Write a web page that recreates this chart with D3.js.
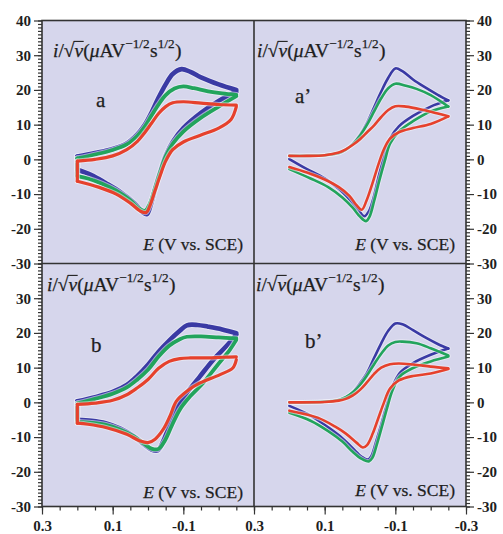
<!DOCTYPE html>
<html>
<head>
<meta charset="utf-8">
<script src="https://cdn.jsdelivr.net/npm/d3@7"></script>
<style>
  body { margin: 0; background: #fff; }
  svg text { font-family: 'Liberation Serif', 'Times New Roman', serif; }
</style>
</head>
<body>
<div id="chart"></div>
<script>
// ---- data: [E (V vs. SCE), i/sqrt(v)] ----
// panel a (experiment)
const aBlueFwd = [[0.2,0.8],[0.15,1.8],[0.1,3.0],[0.06,4.6],[0.03,7.2],[0.01,9.8],[-0.01,13.5],[-0.03,17.8],[-0.05,21.6],[-0.07,24.6],[-0.095,26],[-0.12,25.2],[-0.15,23.6],[-0.2,21.6],[-0.25,20]];
const aBlueRev = [[-0.25,19.5],[-0.2,16.8],[-0.15,13.4],[-0.1,9],[-0.07,5],[-0.05,1],[-0.035,-3.5],[-0.02,-8.5],[-0.008,-13],[0.003,-15.8],[0.015,-15.2],[0.04,-12.5],[0.08,-9.3],[0.12,-6.8],[0.16,-4.5],[0.2,-3]];
const aGreenFwd = [[0.2,0.3],[0.15,1.4],[0.1,2.7],[0.06,4.3],[0.03,6.8],[0.01,9.3],[-0.01,12.6],[-0.03,15.8],[-0.05,18.5],[-0.075,20.4],[-0.1,21],[-0.13,20.5],[-0.17,19.6],[-0.21,19],[-0.25,18.6]];
const aGreenRev = [[-0.25,18.2],[-0.2,15.2],[-0.15,12],[-0.1,8],[-0.07,4.5],[-0.05,0.8],[-0.035,-3.5],[-0.02,-8.3],[-0.005,-12.8],[0.008,-14.8],[0.025,-14.2],[0.05,-11.8],[0.09,-9],[0.13,-7],[0.17,-5.5],[0.2,-4.8]];
const aRedFwd = [[0.2,-0.5],[0.15,0],[0.1,1],[0.06,2.8],[0.03,5.2],[0.01,7.6],[-0.01,10.4],[-0.03,13.2],[-0.05,15.2],[-0.07,16.3],[-0.1,16.6],[-0.15,16.2],[-0.2,15.8],[-0.25,15.6]];
const aRedRev = [[-0.25,15.2],[-0.235,11.5],[-0.2,9],[-0.15,7],[-0.1,5],[-0.07,2.8],[-0.05,-0.5],[-0.035,-4.5],[-0.02,-9],[-0.005,-13.5],[0.005,-15.3],[0.02,-15],[0.05,-12.6],[0.09,-10],[0.14,-8],[0.2,-6.3]];

// panel a' (simulation)
const apBlueFwd = [[0.2,1],[0.15,1],[0.1,1.2],[0.06,1.8],[0.04,2.8],[0.02,4.5],[0.0,7],[-0.02,10.5],[-0.04,15],[-0.06,19.5],[-0.08,23.5],[-0.1,26.2],[-0.12,25.4],[-0.15,23],[-0.18,21],[-0.22,18.6],[-0.25,17]];
const apBlueRev = [[-0.25,17],[-0.2,15.2],[-0.15,12.5],[-0.11,9.5],[-0.085,6],[-0.07,1.5],[-0.055,-4],[-0.04,-10.5],[-0.025,-15],[-0.012,-16.4],[0.005,-14.5],[0.03,-11.5],[0.06,-8.5],[0.1,-5.5],[0.15,-2.8],[0.2,0.1]];
const apGreenFwd = [[0.2,1],[0.1,1.2],[0.06,1.8],[0.04,2.8],[0.02,4.4],[0.0,6.8],[-0.02,10],[-0.04,13.8],[-0.06,17.6],[-0.08,20.5],[-0.1,21.8],[-0.13,21.2],[-0.16,20.3],[-0.2,18.5],[-0.25,15.2]];
const apGreenRev = [[-0.25,15.2],[-0.2,13.8],[-0.15,11],[-0.11,8],[-0.085,4.5],[-0.07,-0.5],[-0.055,-6],[-0.04,-12],[-0.027,-16.5],[-0.017,-17.8],[0.0,-16.5],[0.02,-14],[0.05,-11],[0.09,-8],[0.14,-5.5],[0.2,-2.8]];
const apRedFwd = [[0.2,1],[0.15,1],[0.1,1.2],[0.06,2],[0.04,2.9],[0.02,4.2],[0.0,5.8],[-0.02,7.8],[-0.04,9.8],[-0.06,12.2],[-0.08,14.2],[-0.1,15.3],[-0.13,15.2],[-0.18,14.2],[-0.22,13.2],[-0.25,12.4]];
const apRedRev = [[-0.25,12.4],[-0.2,10.2],[-0.15,9],[-0.11,7.8],[-0.085,6],[-0.068,3],[-0.052,-1.5],[-0.035,-7],[-0.018,-12],[-0.005,-14.5],[0.01,-13.2],[0.03,-10.5],[0.06,-8],[0.1,-5.8],[0.15,-3.8],[0.2,-2.2]];

// panel b (experiment)
const bBlueFwd = [[0.2,0.3],[0.15,1.5],[0.1,3],[0.06,5],[0.03,7.6],[0.0,10.8],[-0.03,14.6],[-0.06,17.8],[-0.09,20.6],[-0.11,22.2],[-0.14,22.3],[-0.17,21.8],[-0.21,21],[-0.25,19.9]];
const bBlueRev = [[-0.25,19.5],[-0.22,16],[-0.185,12.3],[-0.147,7.5],[-0.11,2.7],[-0.08,-2],[-0.06,-6.8],[-0.043,-11.2],[-0.028,-13.8],[-0.01,-13.6],[0.01,-12.2],[0.04,-9.8],[0.08,-7.5],[0.12,-6],[0.16,-5.3],[0.2,-5]];
const bGreenFwd = [[0.2,-0.3],[0.15,1],[0.1,2.5],[0.06,4.3],[0.03,6.6],[0.0,9.4],[-0.03,13.2],[-0.06,16.3],[-0.09,18.2],[-0.11,18.9],[-0.15,19],[-0.2,18.7],[-0.25,18.4]];
const bGreenRev = [[-0.25,18],[-0.232,15.2],[-0.194,10.4],[-0.156,5.6],[-0.12,1.8],[-0.09,-2.1],[-0.067,-6.8],[-0.048,-11],[-0.03,-13.4],[-0.012,-13.4],[0.01,-12],[0.04,-9.8],[0.08,-7.8],[0.12,-6.5],[0.16,-5.9],[0.2,-5.6]];
const bRedFwd = [[0.2,-0.6],[0.15,-0.2],[0.1,0.6],[0.06,2.2],[0.03,4.2],[0.0,6.6],[-0.03,9.8],[-0.06,11.8],[-0.09,12.6],[-0.12,12.8],[-0.17,12.8],[-0.21,13],[-0.25,13.1]];
const bRedRev = [[-0.25,12.3],[-0.24,9.9],[-0.204,8],[-0.147,5.6],[-0.11,3.2],[-0.08,0.3],[-0.062,-4],[-0.043,-7.8],[-0.02,-10.6],[0.0,-11.6],[0.023,-11.1],[0.06,-9.2],[0.117,-7.3],[0.17,-6.3],[0.2,-6]];

// panel b' (simulation)
const bpBlueFwd = [[0.2,0],[0.1,0.2],[0.06,0.7],[0.04,1.5],[0.02,3],[0.0,5.5],[-0.02,8.5],[-0.04,12.8],[-0.06,17],[-0.08,20.6],[-0.1,22.7],[-0.12,22.5],[-0.15,20.8],[-0.19,18.4],[-0.22,16.8],[-0.25,15.5]];
const bpBlueRev = [[-0.25,15.5],[-0.2,13.7],[-0.15,11.3],[-0.113,8.5],[-0.09,4],[-0.075,-1],[-0.06,-6.5],[-0.045,-11.5],[-0.032,-15.5],[-0.022,-16.5],[-0.005,-15.7],[0.02,-13.3],[0.05,-10.3],[0.09,-7.2],[0.14,-3.8],[0.2,-1]];
const bpGreenFwd = [[0.2,0],[0.1,0.2],[0.06,0.7],[0.04,1.5],[0.02,2.9],[0.0,5],[-0.02,7.8],[-0.04,11],[-0.06,14],[-0.08,16.4],[-0.1,17.4],[-0.12,17.5],[-0.16,17],[-0.2,15.6],[-0.25,13.5]];
const bpGreenRev = [[-0.25,13.2],[-0.2,11.8],[-0.15,9.9],[-0.113,7.5],[-0.092,3.5],[-0.077,-1.5],[-0.062,-7],[-0.048,-12],[-0.035,-16],[-0.025,-17],[-0.005,-16.3],[0.02,-14.3],[0.05,-11.3],[0.09,-8.3],[0.14,-5.3],[0.2,-3]];
const bpRedFwd = [[0.2,0],[0.1,0.1],[0.06,0.5],[0.04,1],[0.02,2],[0.0,3.6],[-0.02,5.8],[-0.04,8.2],[-0.06,10],[-0.085,11],[-0.11,11.2],[-0.15,10.9],[-0.2,10.3],[-0.25,9.8]];
const bpRedRev = [[-0.25,9.6],[-0.2,8.3],[-0.15,7.6],[-0.11,6.3],[-0.085,4],[-0.068,0],[-0.052,-4.5],[-0.036,-9],[-0.02,-12.3],[-0.008,-13],[0.01,-11.6],[0.04,-9],[0.07,-7],[0.12,-4.4],[0.2,-2.4]];

// axis ticks / labels
const xMajor = [0.3, 0.1, -0.1, -0.3];
const yMajor = [40, 30, 20, 10, 0, -10, -20, -30];
const panelLetters = ['a', 'a\u2019', 'b', 'b\u2019'];
const xTitle = 'E';
const xTitleRest = ' (V vs. SCE)';

// ---- layout ----
const W = 503, H = 534;
const X0 = 42, XM = 254, X1 = 466;
const Y0 = 20.5, YM = 263.5, Y1 = 506.5;
const COLORS = { blue: '#3a3aa4', green: '#22a45c', red: '#e6412c' };
const BG = '#d6d6ec';
const INK = '#1e1e1e';

const svg = d3.select('#chart').append('svg')
  .attr('width', W)
  .attr('height', H);

svg.append('rect').attr('width', W).attr('height', H).attr('fill', '#fff');
svg.append('rect')
  .attr('x', X0).attr('y', Y0)
  .attr('width', X1 - X0).attr('height', Y1 - Y0)
  .attr('fill', BG);

// scales
const xL = d3.scaleLinear().domain([0.3, -0.3]).range([X0, XM]);
const xR = d3.scaleLinear().domain([0.3, -0.3]).range([XM, X1]);
const yT = d3.scaleLinear().domain([-30, 40]).range([YM, Y0]);
const yB = d3.scaleLinear().domain([-30, 40]).range([Y1, YM]);

const tickFont = g => g.selectAll('text')
  .attr('font-family', "'Liberation Serif', serif")
  .attr('font-size', 15)
  .attr('font-weight', 'bold')
  .attr('fill', INK);

const tidy = g => {
  g.select('.domain').remove();
  g.selectAll('line').attr('stroke', '#333').attr('stroke-width', 1.2);
};

// y axes: minor every 1, major every 10
function yAxes(y, labels, side) {
  const x = side === 'left' ? X0 : X1;
  const mk = side === 'left' ? d3.axisLeft : d3.axisRight;
  svg.append('g')
    .attr('transform', `translate(${x},0)`)
    .call(mk(y).tickValues(d3.range(-30, 41, 1)).tickSize(4).tickFormat(''))
    .call(tidy);
  svg.append('g')
    .attr('transform', `translate(${x},0)`)
    .call(mk(y).tickValues(labels).tickSize(8).tickPadding(3).tickFormat(d => String(d)))
    .call(tidy)
    .call(tickFont);
}
yAxes(yT, yMajor, 'left');
yAxes(yB, yMajor.filter(d => d !== 40), 'left');
yAxes(yT, yMajor, 'right');
yAxes(yB, yMajor.filter(d => d !== 40), 'right');

// x axis: minor every 0.05, labels at 0.3, 0.1, -0.1, -0.3
function xAxis(x, labels) {
  svg.append('g')
    .attr('transform', `translate(0,${Y1})`)
    .call(d3.axisBottom(x).tickValues(d3.range(-6, 7).map(k => k * 0.05)).tickSize(4).tickFormat(''))
    .call(tidy);
  svg.append('g')
    .attr('transform', `translate(0,${Y1})`)
    .call(d3.axisBottom(x).tickValues(labels).tickSize(8).tickPadding(6).tickFormat(d => d.toFixed(1)))
    .call(tidy)
    .call(tickFont);
}
xAxis(xL, xMajor.slice(0, 3));
xAxis(xR, xMajor);

// frame
const frame = svg.append('g').attr('fill', 'none').attr('stroke', '#333').attr('stroke-width', 1.6);
frame.append('rect').attr('x', X0).attr('y', Y0).attr('width', X1 - X0).attr('height', Y1 - Y0);
frame.append('line').attr('x1', XM).attr('x2', XM).attr('y1', Y0).attr('y2', Y1);
frame.append('line').attr('x1', X0).attr('x2', X1).attr('y1', YM).attr('y2', YM);

// curves
function drawCV(x, y, fwd, rev, color, width, closeStart) {
  const line = d3.line()
    .x(d => x(d[0]))
    .y(d => y(d[1]))
    .curve(d3.curveCatmullRom.alpha(0.5));
  const g = svg.append('g').attr('fill', 'none')
    .attr('stroke-linejoin', 'round').attr('stroke-linecap', 'round');
  const parts = [fwd, rev];
  if (closeStart) parts.push([rev[rev.length - 1], fwd[0]]);
  parts.forEach(p => {
    g.append('path').datum(p)
      .attr('stroke', '#f2f2fa').attr('stroke-opacity', 0.55)
      .attr('stroke-width', width + 2)
      .attr('d', line);
  });
  parts.forEach(p => {
    g.append('path').datum(p)
      .attr('stroke', color)
      .attr('stroke-width', width)
      .attr('d', line);
  });
}

drawCV(xL, yT, aBlueFwd, aBlueRev, COLORS.blue, 4.6, true);
drawCV(xL, yT, aGreenFwd, aGreenRev, COLORS.green, 3.8, true);
drawCV(xL, yT, aRedFwd, aRedRev, COLORS.red, 3.2, true);

drawCV(xR, yT, apBlueFwd, apBlueRev, COLORS.blue, 2.6, false);
drawCV(xR, yT, apGreenFwd, apGreenRev, COLORS.green, 2.6, false);
drawCV(xR, yT, apRedFwd, apRedRev, COLORS.red, 2.6, false);

drawCV(xL, yB, bBlueFwd, bBlueRev, COLORS.blue, 4.6, true);
drawCV(xL, yB, bGreenFwd, bGreenRev, COLORS.green, 3.8, true);
drawCV(xL, yB, bRedFwd, bRedRev, COLORS.red, 3.2, true);

drawCV(xR, yB, bpBlueFwd, bpBlueRev, COLORS.blue, 2.6, false);
drawCV(xR, yB, bpGreenFwd, bpGreenRev, COLORS.green, 2.6, false);
drawCV(xR, yB, bpRedFwd, bpRedRev, COLORS.red, 2.6, false);

// y title i/sqrt(v) (uA V^-1/2 s^1/2), laid out piece by piece
function yTitle(x0, y0, size) {
  const segs = [
    { t: 'i', it: true }, { t: '/' }, { t: '\u221A' }, { t: 'v', it: true, bar: true },
    { t: '(' }, { t: '\u03BC', it: true }, { t: 'AV' }, { t: '\u22121/2', sup: true },
    { t: 's' }, { t: '1/2', sup: true }, { t: ')' }
  ];
  const g = svg.append('g').attr('fill', INK);
  let cx = x0;
  let rootEnd = x0;
  segs.forEach(s => {
    const fs = s.sup ? size * 0.68 : size;
    const t = g.append('text')
      .attr('x', cx)
      .attr('y', s.sup ? y0 - size * 0.45 : y0)
      .attr('font-size', fs)
      .attr('font-style', s.it ? 'italic' : 'normal')
      .attr('stroke', INK).attr('stroke-width', 0.25)
      .text(s.t);
    const w = t.node().getComputedTextLength();
    if (s.t === '\u221A') rootEnd = cx + w;
    if (s.bar) {
      g.append('line')
        .attr('x1', rootEnd - 0.8).attr('x2', cx + w + 0.5)
        .attr('y1', y0 - size * 0.8).attr('y2', y0 - size * 0.8)
        .attr('stroke', INK).attr('stroke-width', 1.1);
    }
    cx += w + (s.sup ? 0.5 : 0);
  });
}
yTitle(53, 57, 19.5);
yTitle(257, 57, 19.5);
yTitle(47, 291, 19.5);
yTitle(256, 291, 19.5);

// x titles
function xTitleAt(xRight, yBase) {
  const t = svg.append('text')
    .attr('x', xRight).attr('y', yBase)
    .attr('text-anchor', 'end')
    .attr('font-size', 17.5)
    .attr('fill', INK)
    .attr('stroke', INK).attr('stroke-width', 0.25);
  t.append('tspan').attr('font-style', 'italic').text(xTitle);
  t.append('tspan').text(xTitleRest);
}
xTitleAt(243, 250);
xTitleAt(455, 250);
xTitleAt(243, 498);
xTitleAt(455, 496);

// panel letters
const letterPos = [[96, 107], [295, 103], [91, 352], [305, 348]];
panelLetters.forEach((l, i) => {
  svg.append('text')
    .attr('x', letterPos[i][0]).attr('y', letterPos[i][1])
    .attr('font-size', 21)
    .attr('fill', INK)
    .attr('stroke', INK).attr('stroke-width', 0.25)
    .text(l);
});
</script>
</body>
</html>
